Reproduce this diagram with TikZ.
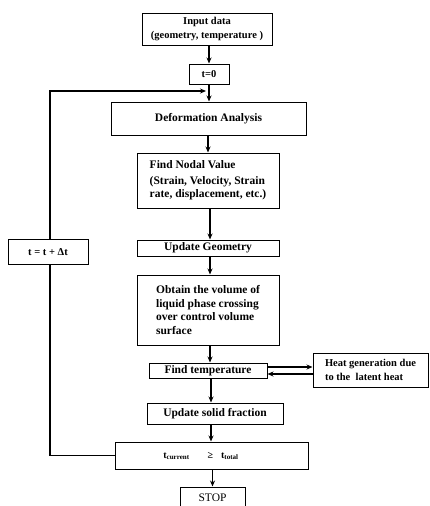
\documentclass[tikz,border=0pt]{standalone}
\usepackage{fontspec}
\setmainfont{Liberation Serif}
\usetikzlibrary{arrows.meta}
\begin{document}
\begin{tikzpicture}[x=1pt,y=-1pt,
  box/.style={draw,line width=1pt,inner sep=1pt,font=\bfseries\fontsize{10.5}{13.5}\selectfont,align=center},
  big/.style={font=\bfseries\fontsize{11.5}{13.5}\selectfont},
  arr/.style={line width=1.2pt,-{Stealth[length=6pt,width=5pt]}},
  ln/.style={line width=1.2pt}]
\useasboundingbox (0,0) rectangle (429,506);
\clip (0,0) rectangle (429,506);
\node[box,minimum width=130pt,minimum height=32pt] (input) at (207,29) {Input data\\(geometry, temperature )};
\node[box,minimum width=40pt,minimum height=20pt] (t0) at (209,74) {t=0};
\node[box,big,minimum width=195pt,minimum height=33pt] (deform) at (208.5,118.5) {Deformation Analysis};
\node[box,big,minimum width=142pt,minimum height=55pt,align=left] (nodal) at (208,180.5) {Find Nodal Value\\[2pt](Strain, Velocity, Strain\\rate, displacement, etc.)};
\node[box,big,minimum width=142pt,minimum height=16pt] (geom) at (208,248) {Update Geometry};
\node[box,big,minimum width=142pt,minimum height=70pt,align=left] (obtain) at (208,310) {Obtain the volume of\\liquid phase crossing\\over control volume\\surface};
\node[box,big,minimum width=118pt,minimum height=15pt] (findt) at (208,370.5) {Find temperature};
\node[box,minimum width=115pt,minimum height=34pt,align=left] (heat) at (370.5,370) {Heat generation due\\to the\ \ latent heat};
\node[box,big,minimum width=136pt,minimum height=21pt] (solid) at (215,413.5) {Update solid fraction};
\node[box,minimum width=193pt,minimum height=27pt] (cond) at (211.5,455.5) {};
\node[font=\bfseries\fontsize{10}{12}\selectfont,inner sep=0pt] (condtxt) at (201,456) {t\textsubscript{current}\hspace{18pt}≥\hspace{8pt}t\textsubscript{total}};
\node[box,font=\fontsize{11.5}{13}\selectfont,minimum width=65pt,minimum height=22pt] (stop) at (212.5,498) {STOP};
% vertical flow
\draw[arr] (input.south -| t0.north) -- (t0.north);
\draw[arr] (t0.south) -- (t0.south |- deform.north);
\draw[arr] (deform.south -| nodal.north) -- (nodal.north);
\draw[arr] (nodal.south -| 210,0) -- (geom.north -| 210,0);
\draw[arr] (geom.south -| 210,0) -- (obtain.north -| 210,0);
\draw[arr] (obtain.south -| 210,0) -- (findt.north -| 210,0);
\draw[arr] (findt.south -| 211,0) -- (solid.north -| 211,0);
\draw[arr] (solid.south -| 211,0) -- (cond.north -| 211,0);
\draw[arr] (cond.south -| stop.north) -- (stop.north);
% heat exchange
\draw[arr] ([yshift=3.5pt]findt.east) -- ([yshift=3.5pt]findt.east -| heat.west);
\draw[arr] ([yshift=-3.5pt]findt.east -| heat.west) -- ([yshift=-3.5pt]findt.east);
% feedback loop
\coordinate (corner) at (50,91);
\coordinate (fb) at (206,91);
\draw[arr] (cond.west) -| (corner) -- (fb);
\node[box,fill=white,font=\bfseries\fontsize{10.5}{12}\selectfont,minimum width=80pt,minimum height=25pt] (dt) at (48,252) {t = t + Δt};
\end{tikzpicture}
\end{document}
